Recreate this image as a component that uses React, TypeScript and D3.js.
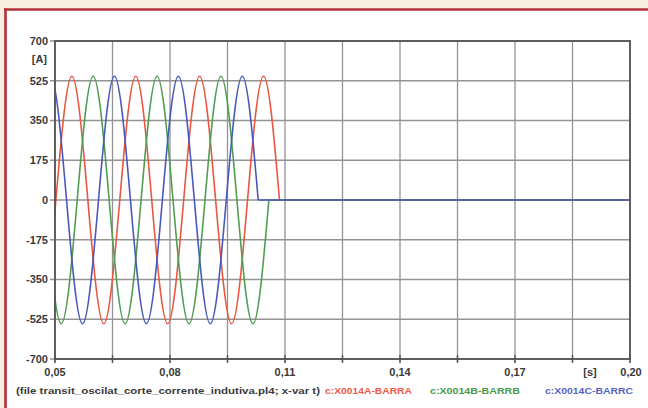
import React from "react";
import * as d3 from "d3";

// Phase currents [time s, current A] read at zero crossings and peaks
const phaseA: [number, number][] = [
  [0.0419, 0], [0.04607, -545], [0.05023, 0], [0.0544, 545], [0.05857, 0],
  [0.06273, -545], [0.0669, 0], [0.07107, 545], [0.07523, 0], [0.0794, -545],
  [0.08357, 0], [0.08773, 545], [0.0919, 0], [0.09607, -545], [0.10023, 0],
  [0.1044, 545], [0.10857, 0],
];
const phaseB: [number, number][] = [
  [0.04746, 0], [0.05163, -545], [0.05579, 0], [0.05996, 545], [0.06413, 0],
  [0.06829, -545], [0.07246, 0], [0.07663, 545], [0.08079, 0], [0.08496, -545],
  [0.08913, 0], [0.09329, 545], [0.09746, 0], [0.10163, -545], [0.10579, 0],
];
const phaseC: [number, number][] = [
  [0.04468, 0], [0.04885, 545], [0.05301, 0], [0.05718, -545], [0.06135, 0],
  [0.06551, 545], [0.06968, 0], [0.07385, -545], [0.07801, 0], [0.08218, 545],
  [0.08635, 0], [0.09051, -545], [0.09468, 0], [0.09885, 545], [0.10301, 0],
];
const tEnd = 0.2;

const xTicks = [0.05, 0.08, 0.11, 0.14, 0.17, 0.2];
const xTickLabels = ["0,05", "0,08", "0,11", "0,14", "0,17", "0,20"];
const xGrid = [0.05, 0.065, 0.08, 0.095, 0.11, 0.125, 0.14, 0.155, 0.17, 0.185, 0.2];
const yTicks = [700, 525, 350, 175, 0, -175, -350, -525, -700];

const seriesNames = ["c:X0014A-BARRA", "c:X0014B-BARRB", "c:X0014C-BARRC"];
const fileLabel = "(file transit_oscilat_corte_corrente_indutiva.pl4; x-var t)";

const colors = ["#e8573f", "#4f9e4f", "#4a58bd"];
const legendColors = ["#ee5a48", "#479a47", "#5662c2"];
const W = 648, H = 408;
const L = 55, R = 630, T = 41, B = 359;
const FONT = "'Liberation Sans', Arial, sans-serif";

export default function App() {
  const x = d3.scaleLinear().domain([0.05, 0.2]).range([L, R]);
  const y = d3.scaleLinear().domain([-700, 700]).range([B, T]);
  const wave = d3.line<[number, number]>().x((d) => x(d[0])).y((d) => y(d[1])).curve(d3.curveNatural);
  const flat = d3.line<[number, number]>().x((d) => x(d[0])).y((d) => y(d[1]));
  const phases = [phaseA, phaseB, phaseC];
  const legendX = [325, 430, 545];
  const legendW = [87, 90, 88];
  return (
    <svg width={W} height={H} style={{ position: "fixed", left: 0, top: 0 }} fontFamily={FONT}>
      <defs>
        <clipPath id="plotclip">
          <rect x={L} y={T} width={R - L} height={B - T} />
        </clipPath>
      </defs>
      <rect x={0} y={0} width={W} height={H} fill="#f9efe1" />
      <rect x={6} y={10} width={W - 6} height={H - 10} fill="#ffffff" />
      <line x1={4} x2={W} y1={9.5} y2={9.5} stroke="#b3323a" strokeWidth={2.6} />
      <line x1={5.5} x2={5.5} y1={8.2} y2={H} stroke="#b3323a" strokeWidth={2.6} />

      {xGrid.map((t) => (
        <line key={"gx" + t} x1={x(t)} x2={x(t)} y1={T} y2={B + 4} stroke="#939393" strokeWidth={1.3} />
      ))}
      {yTicks.map((v) => (
        <line key={"gy" + v} x1={L - 5} x2={R} y1={y(v)} y2={y(v)} stroke="#939393" strokeWidth={1.3} />
      ))}
      {xGrid.map((t) => (
        <line key={"tx" + t} x1={x(t)} x2={x(t)} y1={B - 4} y2={B + 4} stroke="#555" strokeWidth={1.4} />
      ))}

      <g clipPath="url(#plotclip)" fill="none" strokeWidth={1.6}>
        {phases.map((p, i) => (
          <path key={"w" + i} d={wave(p) || ""} stroke={colors[i]} />
        ))}
        {phases.map((p, i) => (
          <path key={"f" + i} d={flat([p[p.length - 1], [tEnd, 0]]) || ""} stroke={colors[i]} />
        ))}
      </g>

      <rect x={L} y={T} width={R - L} height={B - T} fill="none" stroke="#555" strokeWidth={1.8} />

      {yTicks.map((v) => (
        <text key={"ly" + v} x={48} y={y(v)} dy="0.35em" textAnchor="end" fontSize={11} fontWeight="bold" fill="#3a3a3a">
          {String(v)}
        </text>
      ))}
      <text x={47} y={59} dy="0.35em" textAnchor="end" fontSize={11} fontWeight="bold" fill="#3a3a3a">[A]</text>

      {xTicks.map((t, i) => (
        <text key={"lx" + t} x={i === xTicks.length - 1 ? x(t) + 1 : x(t)} y={372} dy="0.35em" textAnchor="middle" fontSize={11} fontWeight="bold" fill="#3a3a3a">
          {xTickLabels[i]}
        </text>
      ))}
      <text x={590} y={372} dy="0.35em" textAnchor="middle" fontSize={11} fontWeight="bold" fill="#3a3a3a">[s]</text>

      <text x={16} y={391} dy="0.35em" fontSize={9.5} fontWeight="bold" fill="#3a3a3a" textLength={304} lengthAdjust="spacingAndGlyphs">
        {fileLabel}
      </text>
      {seriesNames.map((s, i) => (
        <text key={s} x={legendX[i]} y={391} dy="0.35em" fontSize={9.5} fontWeight="bold" fill={legendColors[i]} textLength={legendW[i]} lengthAdjust="spacingAndGlyphs">
          {s}
        </text>
      ))}
    </svg>
  );
}
